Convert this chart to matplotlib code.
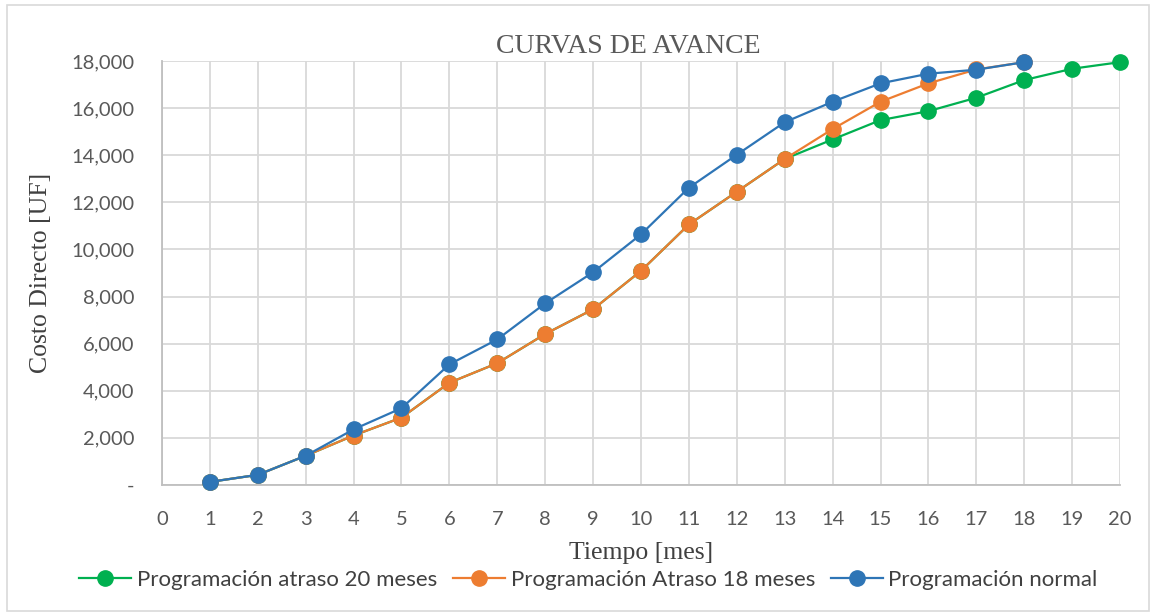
import matplotlib
matplotlib.use("Agg")
import matplotlib.pyplot as plt
from matplotlib.ticker import FuncFormatter, MultipleLocator

# Monthly cumulative direct cost [UF]
months_20 = list(range(1, 21))
months_18 = list(range(1, 19))

atraso_20 = [130, 430, 1240, 2100, 2860, 4340, 5170, 6410, 7460, 9090,
             11060, 12450, 13840, 14670, 15490, 15870, 16440, 17190, 17670, 17950]
atraso_18 = [130, 430, 1240, 2100, 2860, 4340, 5170, 6410, 7460, 9090,
             11060, 12450, 13840, 15110, 16270, 17050, 17640, 17950]
normal = [130, 430, 1240, 2360, 3260, 5120, 6180, 7710, 9030, 10640,
          12620, 14020, 15400, 16270, 17050, 17460, 17630, 17950]

labels = ["Programación atraso 20 meses", "Programación Atraso 18 meses",
          "Programación normal"]
colors = ["#00B050", "#ED7D31", "#2E75B6"]

fig = plt.figure(figsize=(11.56, 6.16), dpi=100)
ax = fig.add_axes([0.1401, 0.2127, 0.8288, 0.6883])

series = [(months_20, atraso_20), (months_18, atraso_18), (months_18, normal)]
for (x, y), lab, c in zip(series, labels, colors):
    ax.plot(x, y, color=c, lw=1.6, marker="o", ms=11, label=lab,
            zorder=3, clip_on=False)

ax.set_xlim(0, 20)
ax.set_ylim(0, 18000)
ax.xaxis.set_major_locator(MultipleLocator(1))
ax.yaxis.set_major_locator(MultipleLocator(2000))
ax.yaxis.set_major_formatter(FuncFormatter(lambda v, p: "-" if v == 0 else f"{int(v):,}"))

grid_c = "#D9D9D9"
ax.grid(True, color=grid_c, lw=1.3, zorder=0)
for s in ["top", "right"]:
    ax.spines[s].set_visible(False)
for s in ["left", "bottom"]:
    ax.spines[s].set_color("#BFBFBF")
    ax.spines[s].set_linewidth(1.3)
ax.tick_params(length=0, colors="#595959", labelsize=14.5)
ax.tick_params(axis="y", pad=20)
ax.tick_params(axis="x", pad=19)
for t in ax.get_xticklabels() + ax.get_yticklabels():
    t.set_fontfamily("Lato")

serif = "Liberation Serif"
ax.set_title("CURVAS DE AVANCE", fontfamily=serif, fontsize=20, color="#595959",
             pad=6, x=0.4864)
ax.set_xlabel("Tiempo [mes]", fontfamily=serif, fontsize=18.5, color="#404040", labelpad=10)
ax.set_ylabel("Costo Directo [UF]", fontfamily=serif, fontsize=18.5, color="#404040", labelpad=14)

leg = fig.legend(loc="center", bbox_to_anchor=(0.509, 0.058), ncol=3, frameon=False,
                 prop={"family": "Lato", "size": 16}, handlelength=2.35,
                 columnspacing=0.7, handletextpad=0.25, labelcolor="#404040")

# outer chart border
fig.patches.append(plt.Rectangle((0.006, 0.008), 0.988, 0.984, transform=fig.transFigure,
                                 fill=False, edgecolor="#D9D9D9", lw=1.2))

fig.savefig("out.png", dpi=100)
